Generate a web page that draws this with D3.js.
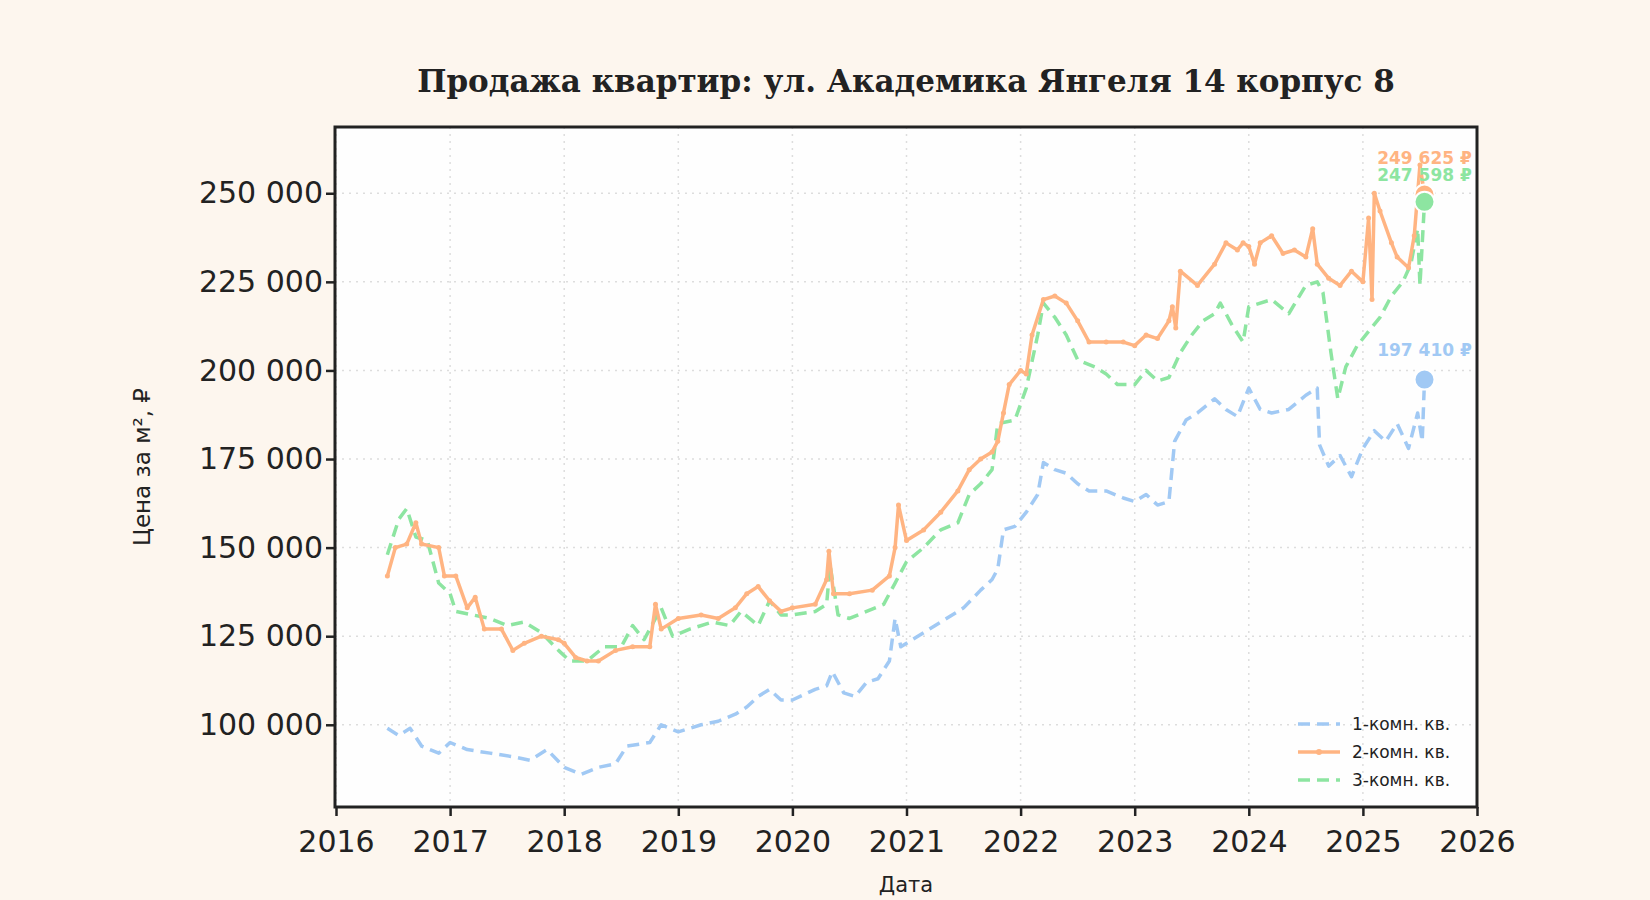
<!DOCTYPE html><html><head><meta charset="utf-8"><script src="https://cdn.jsdelivr.net/npm/d3@7"></script>
<style>body{margin:0;background:#fdf6ee}</style></head><body><svg id="c" width="1650" height="900"></svg><script>
const title="Продажа квартир: ул. Академика Янгеля 14 корпус 8";
const seriesNames=["1-комн. кв.","2-комн. кв.","3-комн. кв."];
const colors=["#a1c9f4","#ffb482","#8de5a1"];
const yTicks=[100000,125000,150000,175000,200000,225000,250000];
const xTicks=[2016,2017,2018,2019,2020,2021,2022,2023,2024,2025,2026];
const t1=[2016.45,2016.55,2016.65,2016.75,2016.9,2017.0,2017.15,2017.35,2017.55,2017.7,2017.85,2018.0,2018.15,2018.3,2018.45,2018.55,2018.75,2018.85,2019.0,2019.2,2019.35,2019.5,2019.6,2019.7,2019.8,2019.9,2020.0,2020.2,2020.3,2020.35,2020.45,2020.55,2020.65,2020.75,2020.85,2020.9,2020.95,2021.05,2021.2,2021.35,2021.5,2021.65,2021.75,2021.8,2021.85,2021.95,2022.05,2022.15,2022.2,2022.3,2022.4,2022.5,2022.6,2022.75,2022.9,2023.0,2023.1,2023.2,2023.3,2023.35,2023.45,2023.55,2023.7,2023.8,2023.9,2024.0,2024.1,2024.2,2024.35,2024.5,2024.6,2024.62,2024.7,2024.8,2024.9,2025.0,2025.1,2025.2,2025.3,2025.4,2025.48,2025.52,2025.54];
const v1=[99,97,99,94,92,95,93,92,91,90,93,88,86,88,89,94,95,100,98,100,101,103,105,108,110,107,107,110,111,115,109,108,112,113,118,130,122,124,127,130,133,138,141,144,155,156,160,165,174,172,171,168,166,166,164,163,165,162,163,180,186,188,192,189,187,195,189,188,189,193,195,179,173,176,170,178,183,180,185,178,188,180,197.41];
const t2=[2016.45,2016.52,2016.62,2016.7,2016.75,2016.9,2016.95,2017.05,2017.15,2017.22,2017.3,2017.45,2017.55,2017.65,2017.8,2017.95,2018.0,2018.1,2018.2,2018.3,2018.45,2018.6,2018.75,2018.8,2018.85,2019.0,2019.2,2019.35,2019.5,2019.6,2019.7,2019.8,2019.9,2020.0,2020.2,2020.3,2020.32,2020.36,2020.5,2020.7,2020.85,2020.9,2020.93,2021.0,2021.15,2021.3,2021.45,2021.55,2021.65,2021.75,2021.8,2021.85,2021.9,2022.0,2022.05,2022.1,2022.2,2022.3,2022.4,2022.5,2022.6,2022.75,2022.9,2023.0,2023.1,2023.2,2023.3,2023.33,2023.36,2023.4,2023.55,2023.7,2023.8,2023.9,2023.95,2024.0,2024.05,2024.1,2024.2,2024.3,2024.4,2024.5,2024.56,2024.6,2024.7,2024.8,2024.9,2025.0,2025.05,2025.08,2025.1,2025.15,2025.25,2025.3,2025.4,2025.45,2025.5,2025.54];
const v2=[142,150,151,157,151,150,142,142,133,136,127,127,121,123,125,124,123,119,118,118,121,122,122,134,127,130,131,130,133,137,139,135,132,133,134,141,149,137,137,138,142,150,162,152,155,160,166,172,175,177,180,188,196,200,199,210,220,221,219,214,208,208,208,207,210,209,214,218,212,228,224,230,236,234,236,235,230,236,238,233,234,232,240,230,226,224,228,225,243,220,250,245,236,232,229,238,258,249.625];
const t3=[2016.45,2016.55,2016.62,2016.7,2016.8,2016.9,2017.0,2017.05,2017.2,2017.35,2017.5,2017.65,2017.8,2017.95,2018.05,2018.2,2018.35,2018.5,2018.6,2018.7,2018.85,2018.95,2019.1,2019.3,2019.45,2019.55,2019.7,2019.8,2019.9,2020.0,2020.2,2020.3,2020.33,2020.4,2020.5,2020.65,2020.8,2020.9,2021.0,2021.15,2021.3,2021.45,2021.55,2021.65,2021.75,2021.8,2021.95,2022.05,2022.15,2022.2,2022.3,2022.4,2022.5,2022.65,2022.75,2022.85,2023.0,2023.1,2023.2,2023.3,2023.4,2023.5,2023.6,2023.7,2023.75,2023.85,2023.95,2024.0,2024.2,2024.35,2024.5,2024.6,2024.65,2024.72,2024.78,2024.85,2024.95,2025.05,2025.15,2025.25,2025.35,2025.42,2025.48,2025.5,2025.54];
const v3=[148,158,161,153,152,140,137,132,131,130,128,129,126,121,118,118,122,122,128,124,133,125,127,129,128,132,128,135,131,131,132,134,145,131,130,132,134,140,146,150,155,157,165,168,172,185,186,195,210,219,215,210,203,201,199,196,196,200,197,198,205,210,214,216,219,213,208,218,220,216,224,225,222,205,192,201,207,211,215,221,225,230,240,224,247.598];
const endLabels=["197 410 ₽","249 625 ₽","247 598 ₽"];

const svg=d3.select("#c");
svg.append("rect").attr("width",1650).attr("height",900).attr("fill","#fdf6ee");
const L=335,R=1477,T=127,B=807;
svg.append("rect").attr("x",L).attr("y",T).attr("width",R-L).attr("height",B-T).attr("fill","#fefefe");
const x=d3.scaleLinear().domain([2016,2026]).range([L+1,R]);
const y=d3.scaleLinear().domain([76800,268700]).range([B,T]);
const g=svg.append("g");
xTicks.forEach(t=>g.append("line").attr("x1",x(t)).attr("x2",x(t)).attr("y1",T).attr("y2",B).attr("stroke","#ddd").attr("stroke-width",1.5).attr("stroke-dasharray","2,5"));
yTicks.forEach(t=>g.append("line").attr("x1",L).attr("x2",R).attr("y1",y(t)).attr("y2",y(t)).attr("stroke","#ddd").attr("stroke-width",1.5).attr("stroke-dasharray","2,5"));
const fmt=v=>d3.format(",")(v).replace(/,/g," ");
const xa=svg.append("g").attr("transform",`translate(0,${B})`).call(d3.axisBottom(x).tickValues(xTicks).tickFormat(d3.format("d")).tickSize(9).tickSizeOuter(0));
const ya=svg.append("g").attr("transform",`translate(${L},0)`).call(d3.axisLeft(y).tickValues(yTicks).tickFormat(fmt).tickSize(9).tickSizeOuter(0));
[xa,ya].forEach(a=>{a.select(".domain").remove();a.selectAll("line").attr("stroke","#222").attr("stroke-width",2.5);a.selectAll("text").attr("font-family","DejaVu Sans").attr("font-size",30).attr("fill","#222");});
xa.selectAll("text").attr("dy","1.1em");
const ts=[t1,t2,t3],vs=[v1,v2,v3];
const line=d3.line().x(d=>x(d[0])).y(d=>y(d[1]*1000));
const dash=["12,7",null,"12,7"];
[0,2,1].forEach(i=>{
  const d=ts[i].map((t,k)=>[t,vs[i][k]]);
  svg.append("path").datum(d).attr("d",line).attr("fill","none").attr("stroke",colors[i]).attr("stroke-width",3.5).attr("stroke-dasharray",dash[i]).attr("stroke-linejoin","round");
  if(i==1) svg.append("g").selectAll("circle").data(d).join("circle").attr("cx",p=>x(p[0])).attr("cy",p=>y(p[1]*1000)).attr("r",2.5).attr("fill",colors[1]);
});
const offs=[-24,-31,-21];
[1,0,2].forEach(i=>{
  const n=ts[i].length-1, px=x(ts[i][n]), py=y(vs[i][n]*1000);
  svg.append("circle").attr("cx",px).attr("cy",py).attr("r",10).attr("fill",colors[i]).attr("stroke","#fff").attr("stroke-width",2);
  svg.append("text").attr("x",px).attr("y",py+offs[i]).attr("text-anchor","middle").attr("font-family","DejaVu Sans").attr("font-weight","bold").attr("font-size",17).attr("fill",colors[i]).text(endLabels[i]);
});
svg.append("rect").attr("x",L).attr("y",T).attr("width",R-L).attr("height",B-T).attr("fill","none").attr("stroke","#222").attr("stroke-width",3);
svg.append("text").attr("x",(L+R)/2).attr("y",92).attr("text-anchor","middle").attr("font-family","DejaVu Serif").attr("font-weight","bold").attr("font-size",31).attr("fill","#222").text(title);
svg.append("text").attr("x",(L+R)/2).attr("y",892).attr("text-anchor","middle").attr("font-family","DejaVu Sans").attr("font-size",21).attr("fill","#222").text("Дата");
svg.append("text").attr("transform",`translate(150,${(T+B)/2}) rotate(-90)`).attr("text-anchor","middle").attr("font-family","DejaVu Sans").attr("font-size",23).attr("fill","#222").text("Цена за м², ₽");
const lg=svg.append("g").attr("transform","translate(1298,724)");
seriesNames.forEach((s,i)=>{
  const yy=i*28;
  lg.append("line").attr("x1",0).attr("x2",42).attr("y1",yy).attr("y2",yy).attr("stroke",colors[i]).attr("stroke-width",3.5).attr("stroke-dasharray",dash[i]);
  if(i==1) lg.append("circle").attr("cx",21).attr("cy",yy).attr("r",3).attr("fill",colors[1]);
  lg.append("text").attr("x",54).attr("y",yy+6).attr("font-family","DejaVu Sans").attr("font-size",17).attr("fill","#222").text(s);
});
</script></body></html>
